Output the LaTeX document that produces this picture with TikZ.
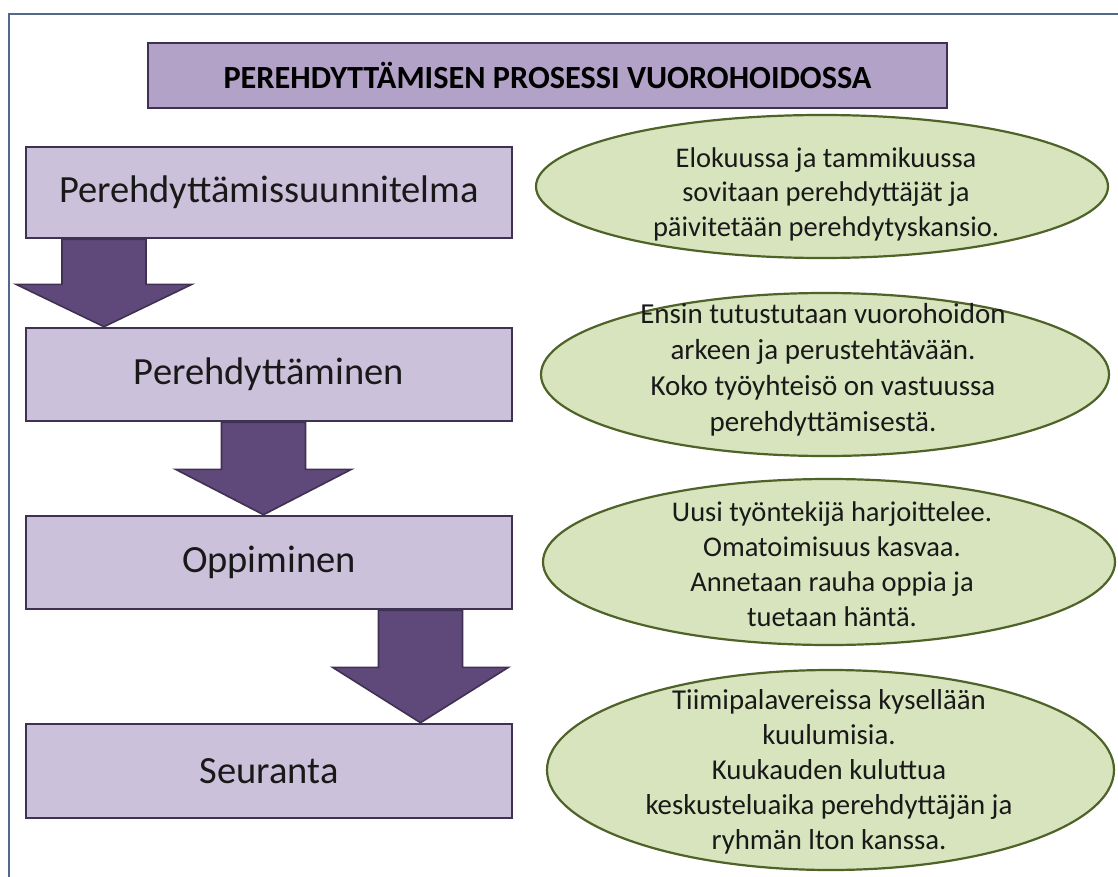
\documentclass[tikz,border=0pt]{standalone}
\usepackage{fontspec}
\setmainfont{Carlito}
\usetikzlibrary{shapes.geometric,calc}
\definecolor{framecol}{HTML}{52698A}
\definecolor{titlefill}{HTML}{B3A2C7}
\definecolor{boxfill}{HTML}{CCC1DA}
\definecolor{boxline}{HTML}{3F3151}
\definecolor{arrfill}{HTML}{5F497A}
\definecolor{ellfill}{HTML}{D7E4BD}
\definecolor{ellline}{HTML}{4F6228}
\definecolor{conncol}{HTML}{505050}
\pgfdeclarelayer{bg}
\pgfsetlayers{bg,main}
\tikzset{
  titlebox/.style={draw=boxline, fill=titlefill, line width=2.6pt, inner sep=0pt,
    font=\fontsize{32.3}{38}\selectfont\bfseries, text=black},
  stepbox/.style={draw=boxline, fill=boxfill, line width=2.6pt, inner sep=0pt,
    minimum width=486pt, font=\fontsize{38.5}{46}\selectfont, text=black!90},
  ell/.style={ellipse, draw=ellline, fill=ellfill, line width=2.2pt, inner sep=0pt},
  etext/.style={align=center, inner sep=0pt, text=black!90},
  blockarr/.style={draw=boxline, fill=arrfill, line width=1.6pt, line join=miter},
  conn/.style={draw=conncol, line width=1pt},
  frameline/.style={draw=framecol, line width=2.4pt}
}
\newcommand\blockarrow[4]{%
  \path[blockarr] let \p1=(#2.south), \p2=(#3.north) in
    ({#1pt-42pt},\y1) -- ({#1pt-42pt},{\y1-#4pt}) -- ({#1pt-88pt},{\y1-#4pt})
    -- ({#1pt},\y2) -- ({#1pt+88pt},{\y1-#4pt}) -- ({#1pt+42pt},{\y1-#4pt})
    -- ({#1pt+42pt},\y1) -- cycle;}
\begin{document}
\begin{tikzpicture}[x=1pt,y=-1pt]
\useasboundingbox (0,0) rectangle (1118,877);
\fill[white] (0,0) rectangle (1118,877);
\draw[frameline] (9,880) -- (9,14) -- (1122,14);

\node[titlebox, minimum width=799pt, minimum height=65pt] (title) at (547.5,75.5)
  {PEREHDYTTÄMISEN PROSESSI VUOROHOIDOSSA};

\node[stepbox, minimum height=91pt] (b1) at (269,192.5) {Perehdyttämissuunnitelma};
\node[stepbox, minimum height=93pt] (b2) at (269,374.5) {Perehdyttäminen};
\node[stepbox, minimum height=93pt] (b3) at (269,562.5) {Oppiminen};
\node[stepbox, minimum height=94pt] (b4) at (269,771) {Seuranta};

\blockarrow{104}{b1}{b2}{45}
\blockarrow{263.5}{b2}{b3}{47}
\blockarrow{420.5}{b3}{b4}{57}

\node[ell, minimum width=572pt, minimum height=143pt] (e1) at (822,186.5) {};
\node[ell, minimum width=568pt, minimum height=163pt] (e2) at (825,374.5) {};
\node[ell, minimum width=572pt, minimum height=166pt] (e3) at (829,562) {};
\node[ell, minimum width=567pt, minimum height=200pt] (e4) at (830.5,770) {};

\begin{pgfonlayer}{bg}
\draw[conn] (b1.east) -- (b1.east -| e1.west);
\draw[conn] (b2.east) -- (b2.east -| e2.west);
\draw[conn] (b3.east) -- (b3.east -| e3.west);
\draw[conn] (b4.east) -- (b4.east -| e4.west);
\end{pgfonlayer}

\node[etext, font=\fontsize{28.5}{34.5}\selectfont] (t1) at (826,194)
  {Elokuussa ja tammikuussa\\sovitaan perehdyttäjät ja\\päivitetään perehdytyskansio.};
\node[etext, font=\fontsize{29}{36}\selectfont] (t2) at (823,370)
  {Ensin tutustutaan vuorohoidon\\arkeen ja perustehtävään.\\Koko työyhteisö on vastuussa\\perehdyttämisestä.};
\node[etext, font=\fontsize{28.5}{35}\selectfont] (t3) at (832,564)
  {Uusi työntekijä harjoittelee.\\Omatoimisuus kasvaa.\\Annetaan rauha oppia ja\\tuetaan häntä.};
\node[etext, font=\fontsize{28.8}{35}\selectfont] (t4) at (829,772)
  {Tiimipalavereissa kysellään\\kuulumisia.\\Kuukauden kuluttua\\keskusteluaika perehdyttäjän ja\\ryhmän lton kanssa.};
\end{tikzpicture}
\end{document}
